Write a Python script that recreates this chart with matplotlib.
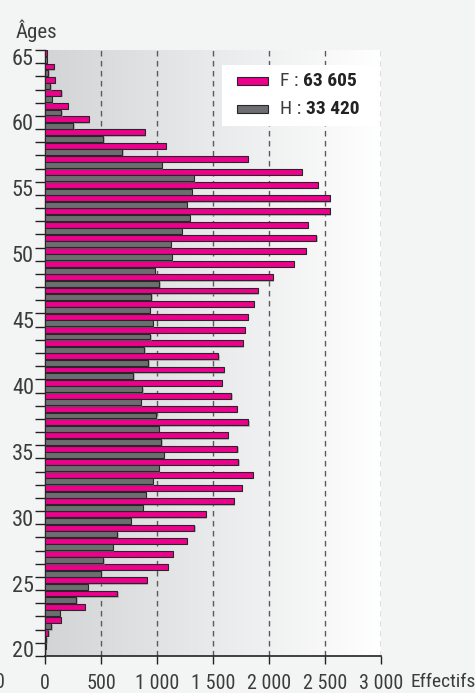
import numpy as np
import matplotlib
matplotlib.use("Agg")
import matplotlib.pyplot as plt
import matplotlib.patheffects as pe
from matplotlib.patches import Rectangle
from matplotlib.colors import LinearSegmentedColormap

plt.rcParams['font.family'] = ['Roboto Condensed', 'Liberation Sans Narrow', 'DejaVu Sans']

# ---- data ----
ages = list(range(65, 19, -1))
femmes = [18, 80, 86, 146, 202, 390, 893, 1077, 1812, 2295, 2434, 2544, 2541, 2345,
          2422, 2327, 2223, 2033, 1899, 1866, 1812, 1783, 1765, 1548, 1595, 1577,
          1664, 1711, 1815, 1631, 1717, 1726, 1854, 1756, 1684, 1434, 1333, 1268,
          1140, 1095, 908, 646, 354, 140, 30, 5]
hommes = [15, 30, 48, 60, 146, 253, 521, 690, 1042, 1327, 1312, 1265, 1295, 1220,
          1122, 1131, 982, 1021, 949, 934, 961, 940, 887, 923, 789, 869, 857, 994,
          1018, 1039, 1060, 1015, 961, 899, 872, 765, 646, 604, 521, 497, 381, 280,
          131, 57, 12, 3]
x_ticks = [0, 500, 1000, 1500, 2000, 2500, 3000]
x_tick_labels = ["0", "500", "1 000", "1 500", "2 000", "2 500", "3 000"]
y_ticks = [20, 25, 30, 35, 40, 45, 50, 55, 60, 65]
series_names = ["F", "H"]
series_totals = ["63 605", "33 420"]

PINK = "#ec008c"
GRAY = "#6d6e71"
EDGE = "#2a2526"
TXT = "#3c3c3c"

W, H = 475, 693
fig = plt.figure(figsize=(W / 100, H / 100), dpi=100)
fig.patch.set_facecolor("#f3f4f4")

ax = fig.add_axes([45 / W, 1 - 656 / H, (381 - 45) / W, (656 - 50) / H])
ax.patch.set_alpha(0)

# background gradient
grad = np.linspace(0, 1, 256).reshape(1, -1)
cmap = LinearSegmentedColormap.from_list("bg", ["#d3d4d6", "#e9eaeb", "#ffffff"])
ax.imshow(grad, extent=(0, 3000, 19.5, 65.5), aspect="auto", cmap=cmap, zorder=0)
ax.set_xlim(0, 3000)
ax.set_ylim(19.5, 65.5)

# dashed grid
for xv in x_ticks[1:]:
    ax.axvline(xv, color="#5a5a5a", lw=1.0, ls=(0, (4, 3.2)), zorder=1)

shadow = [pe.SimplePatchShadow(offset=(1.0, -1.0), shadow_rgbFace="#888888", alpha=0.5), pe.Normal()]
ages_arr = np.array(ages, dtype=float)
bf = ax.barh(ages_arr + 0.245, femmes, height=0.45, color=PINK, edgecolor=EDGE, linewidth=0.8, zorder=3)
bh = ax.barh(ages_arr - 0.245, hommes, height=0.45, color=GRAY, edgecolor=EDGE, linewidth=0.8, zorder=3)
for b in list(bf) + list(bh):
    b.set_path_effects(shadow)

# axes styling
for s in ["top", "right"]:
    ax.spines[s].set_visible(False)
ax.spines["left"].set_color("#222222")
ax.spines["bottom"].set_color("#222222")
ax.spines["left"].set_linewidth(1.0)
ax.spines["bottom"].set_linewidth(1.2)

ax.set_xticks(x_ticks)
ax.set_xticklabels(x_tick_labels)
ax.tick_params(axis="x", direction="out", length=6, width=1.0, color="#222222",
               labelsize=14.5, labelcolor=TXT, pad=7)
ax.set_yticks(y_ticks)
ax.set_yticklabels([str(v) for v in y_ticks])
ax.tick_params(axis="y", which="major", length=0, labelsize=16, labelcolor=TXT, pad=8)
ax.set_yticks(np.arange(19.5, 66, 1.0), minor=True)
ax.tick_params(axis="y", which="minor", direction="out", length=7, width=1.0, color="#222222")

# titles
fig.text(16 / W, 1 - 31 / H, "Âges", fontsize=15, color=TXT, ha="left", va="center")
fig.text(410 / W, 1 - 682 / H, "Effectifs", fontsize=14, color=TXT, ha="left", va="center")
fig.text(-5 / W, 1 - 682 / H, "0", fontsize=14.5, color=TXT, ha="left", va="center")

# legend box
fig.patches.append(Rectangle((222 / W, 1 - 126 / H), (377 - 222) / W, (126 - 65) / H,
                             transform=fig.transFigure, facecolor="white", edgecolor="none", zorder=5))
for i, (name, tot, col) in enumerate(zip(series_names, series_totals, [PINK, GRAY])):
    yc = 81 + i * 28
    fig.patches.append(Rectangle((237 / W, 1 - (yc + 4) / H), 31 / W, 8 / H,
                                 transform=fig.transFigure, facecolor=col, edgecolor=EDGE,
                                 linewidth=0.8, zorder=6))
    t1 = fig.text(280 / W, 1 - yc / H, name + " : ", fontsize=14, color=TXT, ha="left", va="center", zorder=7)
    fig.canvas.draw()
    bb = t1.get_window_extent()
    fig.text(bb.x1 / W, 1 - yc / H, tot, fontsize=14, color="#222222", fontweight="bold",
             ha="left", va="center", zorder=7)

fig.savefig("out.png", dpi=100, facecolor=fig.get_facecolor())
